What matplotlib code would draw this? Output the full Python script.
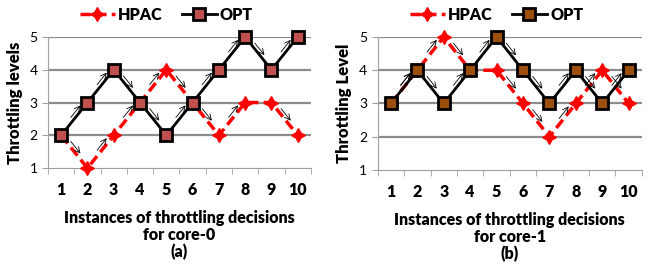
import numpy as np
import matplotlib
matplotlib.use("Agg")
import matplotlib.pyplot as plt

plt.rcParams["font.family"] = ["Lato", "DejaVu Sans"]

instances = list(range(1, 11))
hpac_core0 = [2, 1, 2, 3, 4, 3, 2, 3, 3, 2]
opt_core0 = [2, 3, 4, 3, 2, 3, 4, 5, 4, 5]
hpac_core1 = [3, 4, 5, 4, 4, 3, 2, 3, 4, 3]
opt_core1 = [3, 4, 3, 4, 5, 4, 3, 4, 3, 4]

panels = [
    dict(hpac=hpac_core0, opt=opt_core0, ylabel="Throttling levels",
         xlabel="Instances of throttling decisions\nfor core-0", tag="(a)",
         optfill="#c0504d", rect=[0.074, 0.382, 0.405, 0.482]),
    dict(hpac=hpac_core1, opt=opt_core1, ylabel="Throttling Level",
         xlabel="Instances of throttling decisions\nfor core-1", tag="(b)",
         optfill="#9c4f0c", rect=[0.582, 0.375, 0.407, 0.489]),
]

fig = plt.figure(figsize=(6.49, 2.72), dpi=100)

for p in panels:
    ax = fig.add_axes(p["rect"])
    x = np.array(instances)
    ax.set_xlim(0.5, 10.5)
    ax.set_ylim(1, 5)
    for y in [2, 3, 4, 5]:
        ax.axhline(y, color="#8c8c8c", lw=1.6, zorder=0)

    # direction arrows
    for series in (p["hpac"], p["opt"]):
        for i in range(len(series) - 1):
            y0, y1 = series[i], series[i + 1]
            if y0 == y1:
                continue
            x0, x1 = x[i], x[i + 1]
            xs = x0 + 0.3 * (x1 - x0)
            xe = x0 + 0.8 * (x1 - x0)
            ys = y0 + 0.3 * (y1 - y0) + 0.18
            ye = y0 + 0.8 * (y1 - y0) + 0.18
            ax.annotate("", xy=(xe, ye), xytext=(xs, ys),
                        arrowprops=dict(arrowstyle="->", color="black", lw=0.6),
                        zorder=4)

    ax.plot(x, p["hpac"], color="#ff0000", ls=(0, (3, 1.5)), lw=2.5,
            marker=(4, 1, 0), ms=10, mfc="#ff0000", mec="#ff0000",
            label="HPAC", zorder=3, clip_on=False)
    ax.plot(x, p["opt"], color="black", lw=2, marker="s", ms=8,
            mfc=p["optfill"], mec="black", mew=2, label="OPT", zorder=5,
            clip_on=False)

    for s in ["top", "right"]:
        ax.spines[s].set_visible(False)
    ax.spines["left"].set_color("#a0a0a0")
    ax.spines["bottom"].set_color("#a0a0a0")
    ax.set_yticks([1, 2, 3, 4, 5])
    ax.tick_params(axis="y", colors="#a0a0a0", labelcolor="black",
                   labelsize=10, length=4)
    ax.set_xticks(instances)
    ax.set_xticks(np.arange(0.5, 11, 1), minor=True)
    ax.tick_params(axis="x", which="major", length=0, labelsize=11.5, pad=10)
    ax.tick_params(axis="x", which="minor", length=4, colors="#a0a0a0")
    for lab in ax.get_xticklabels():
        lab.set_fontweight("heavy")
    ax.set_ylabel(p["ylabel"], fontsize=12, fontweight="heavy", labelpad=5)
    ax.set_xlabel(p["xlabel"] + "\n" + p["tag"], fontsize=11.5,
                  fontweight="heavy", labelpad=9, linespacing=1.05)
    ax.legend(loc="lower center", bbox_to_anchor=(0.45, 1.06), ncol=2,
              frameon=False, prop=dict(size=11.5, weight="heavy"),
              handlelength=2.2, columnspacing=1.2, handletextpad=0.2,
              borderaxespad=0)

fig.savefig("out.png", dpi=100)
